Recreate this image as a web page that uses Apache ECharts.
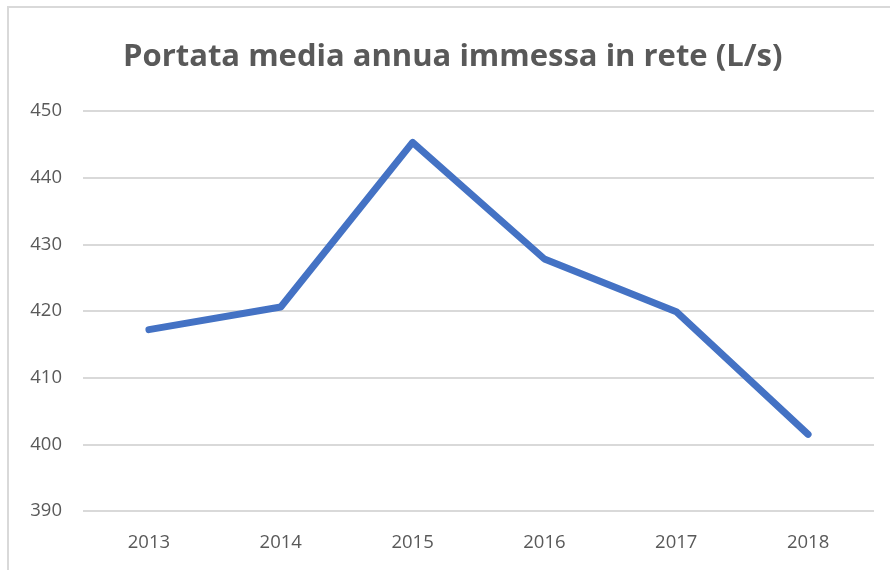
<!DOCTYPE html>
<html><head><meta charset="utf-8">
<script src="https://cdn.jsdelivr.net/npm/echarts@6/dist/echarts.min.js"></script>
<style>html,body{margin:0;padding:0;background:#fff;}#frame{position:absolute;left:7px;top:6px;width:900px;height:580px;border:2px solid #d9d9d9;box-sizing:border-box;}#c{position:absolute;left:0;top:0;width:890px;height:570px;}</style>
</head><body><div id="frame"></div><div id="c"></div>
<script>
const titleText = 'Portata media annua immessa in rete (L/s)';
const years = ['2013','2014','2015','2016','2017','2018'];
const portata = [417.2, 420.6, 445.3, 427.8, 419.9, 401.5];
const yTicks = {min: 390, max: 450, interval: 10};

const chart = echarts.init(document.getElementById('c'));
chart.setOption({
  animation: false,
  title: {text: titleText, left: 118, top: 37,
    textStyle: {fontFamily: 'Open Sans', fontWeight: 'bold', fontSize: 31, color: '#595959'}},
  grid: {left: 83, right: 16, top: 111, bottom: 59},
  xAxis: {type: 'category', data: years, boundaryGap: true,
    axisLine: {show: false}, axisTick: {show: false},
    axisLabel: {fontFamily: 'Open Sans', fontSize: 18.5, color: '#595959', margin: 22}},
  yAxis: {type: 'value', min: yTicks.min, max: yTicks.max, interval: yTicks.interval,
    axisLine: {show: false}, axisTick: {show: false},
    axisLabel: {fontFamily: 'Open Sans', fontSize: 18.5, color: '#595959', margin: 21},
    splitLine: {lineStyle: {color: '#d9d9d9', width: 2}}},
  series: [{type: 'line', data: portata, showSymbol: false, symbol: 'none',
    lineStyle: {color: '#4472C4', width: 7, cap: 'round', join: 'round'}}]
});
</script></body></html>
